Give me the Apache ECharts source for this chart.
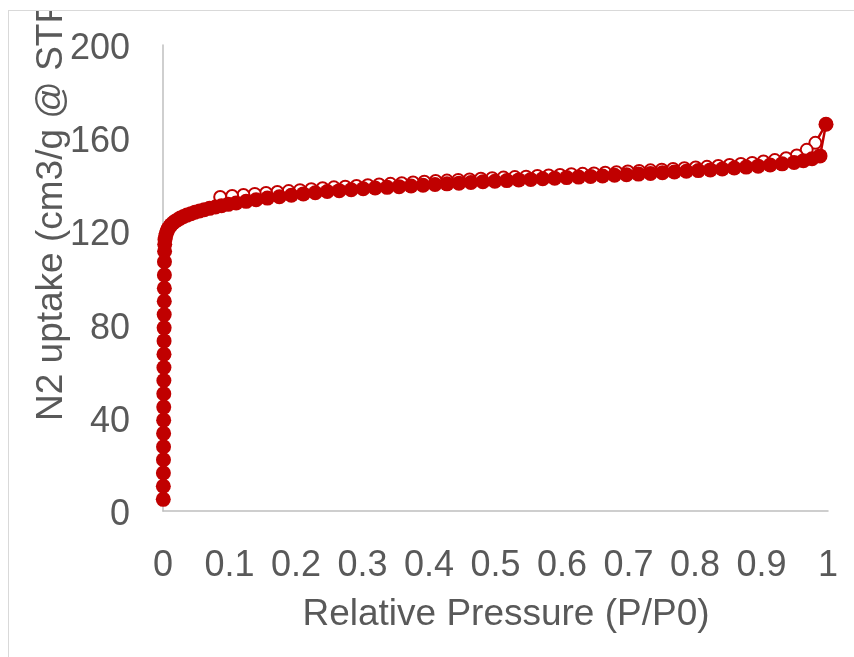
<!DOCTYPE html>
<html>
<head>
<meta charset="utf-8">
<script src="https://cdn.jsdelivr.net/npm/echarts@6/dist/echarts.min.js"></script>
<style>
html, body { margin: 0; padding: 0; overflow: hidden; background: #fff; }
#chart {
  position: absolute; left: 8px; top: 10px;
  width: 845px; height: 646px;
  border-left: 1px solid #d9d9d9; border-top: 1px solid #d9d9d9;
}
</style>
</head>
<body>
<div id="chart"></div>
<script>
// adsorption branch (filled markers)
const adsP = [0.0004, 0.0005, 0.0006, 0.0007, 0.0008, 0.0009, 0.001, 0.0011, 0.0012, 0.0013,
  0.0014, 0.0015, 0.0016, 0.0017, 0.0018, 0.0019, 0.002, 0.0021, 0.0022, 0.0024, 0.0026,
  0.003, 0.004, 0.005, 0.0065, 0.008, 0.010, 0.012, 0.015, 0.018, 0.022, 0.026, 0.031,
  0.036, 0.042, 0.048, 0.055, 0.062, 0.070, 0.079, 0.088, 0.098, 0.110, 0.125, 0.140,
  0.157, 0.175, 0.193, 0.211, 0.229, 0.247, 0.265, 0.283, 0.301, 0.319, 0.337, 0.355,
  0.373, 0.391, 0.409, 0.427, 0.445, 0.463, 0.481, 0.499, 0.517, 0.535, 0.553, 0.571,
  0.589, 0.607, 0.625, 0.643, 0.661, 0.679, 0.697, 0.715, 0.733, 0.751, 0.769, 0.787,
  0.805, 0.823, 0.841, 0.859, 0.877, 0.895, 0.913, 0.931, 0.949, 0.963, 0.976, 0.988, 0.997];
const adsV = [5, 10.6, 16.3, 22.0, 27.6, 33.3, 39.0, 44.6, 50.3, 56.0,
  61.6, 67.3, 73.0, 78.6, 84.3, 90.0, 95.6, 101.3, 107.0, 111.5, 114.5,
  116.5, 118, 119.2, 120.3, 121.2, 122, 122.8, 123.6, 124.3, 125, 125.7, 126.4,
  127, 127.6, 128.2, 128.8, 129.3, 129.9, 130.5, 131, 131.6, 132.2, 132.9, 133.6,
  134.3, 134.9, 135.5, 136.1, 136.6, 137.1, 137.5, 137.9, 138.3, 138.6, 138.9, 139.2,
  139.5, 139.8, 140.1, 140.4, 140.7, 141, 141.3, 141.5, 141.8, 142.1, 142.3, 142.6,
  142.8, 143.1, 143.3, 143.6, 143.8, 144.1, 144.3, 144.6, 144.9, 145.2, 145.5, 145.8,
  146.1, 146.4, 146.8, 147.2, 147.6, 148, 148.5, 149, 149.6, 150.3, 151.2, 152.4, 166];

// desorption branch (open markers)
const desP = [0.997, 0.981, 0.968, 0.953, 0.937, 0.92, 0.903, 0.886, 0.869, 0.852, 0.835,
  0.818, 0.801, 0.784, 0.767, 0.75, 0.733, 0.716, 0.699, 0.682, 0.665, 0.648, 0.631,
  0.614, 0.597, 0.58, 0.563, 0.546, 0.529, 0.512, 0.495, 0.478, 0.461, 0.444, 0.427,
  0.41, 0.393, 0.376, 0.359, 0.342, 0.325, 0.308, 0.291, 0.274, 0.257, 0.24, 0.223,
  0.206, 0.189, 0.172, 0.155, 0.138, 0.121, 0.104, 0.086];
const desV = [166, 158, 155, 152.6, 151.4, 150.6, 150, 149.4, 148.9, 148.5, 148.1,
  147.7, 147.4, 147.1, 146.8, 146.5, 146.2, 145.9, 145.7, 145.4, 145.2, 144.9, 144.7,
  144.5, 144.2, 144, 143.8, 143.5, 143.3, 143.1, 142.8, 142.6, 142.3, 142.1, 141.8,
  141.6, 141.3, 141, 140.7, 140.4, 140.1, 139.8, 139.5, 139.2, 138.9, 138.5, 138.1,
  137.7, 137.3, 136.9, 136.5, 136.1, 135.6, 135.2, 134.8];

const xTitle = 'Relative Pressure (P/P0)'
const yTitle = 'N2 uptake (cm3/g @ STP)'
const red = '#C00000'
const textColor = '#595959'
const font = "'Liberation Sans', Arial, sans-serif"

const chart = echarts.init(document.getElementById('chart'))
chart.setOption({
  animation: false,
  grid: { left: 154, top: 34, right: 26, bottom: 146 },
  xAxis: {
    type: 'value', min: 0, max: 1, interval: 0.1,
    axisLine: { lineStyle: { color: '#bfbfbf', width: 1.5 } },
    axisTick: { show: false },
    splitLine: { show: false },
    axisLabel: { color: textColor, fontSize: 36, fontFamily: font, margin: 37 }
  },
  yAxis: {
    type: 'value', min: 0, max: 200, interval: 40,
    axisLine: { show: true, lineStyle: { color: '#bfbfbf', width: 1.5 } },
    axisTick: { show: false },
    splitLine: { show: false },
    // small line box so each label sits a few px below its value, as in the reference
    axisLabel: { color: textColor, fontSize: 36, fontFamily: font, margin: 33, verticalAlign: 'top', lineHeight: 8 }
  },
  graphic: [
    {
      type: 'text', x: 497, y: 604,
      style: { text: xTitle, fill: textColor, fontSize: 37, fontFamily: font, align: 'center', verticalAlign: 'middle' }
    },
    {
      type: 'text', x: 43, y: 410, rotation: Math.PI / 2,
      style: { text: yTitle, fill: textColor, fontSize: 37, fontFamily: font, align: 'left', verticalAlign: 'middle' }
    }
  ],
  series: [
    {
      name: 'desorption', type: 'line', clip: false,
      data: desP.map((p, i) => [p, desV[i]]),
      symbol: 'emptyCircle', symbolSize: 12,
      itemStyle: { color: red, borderWidth: 2 },
      lineStyle: { color: red, width: 2.5 }
    },
    {
      name: 'adsorption', type: 'line', clip: false,
      data: adsP.map((p, i) => [p, adsV[i]]),
      symbol: 'circle', symbolSize: 15,
      itemStyle: { color: red },
      lineStyle: { color: red, width: 2.5 }
    }
  ]
})
</script>
</body>
</html>
